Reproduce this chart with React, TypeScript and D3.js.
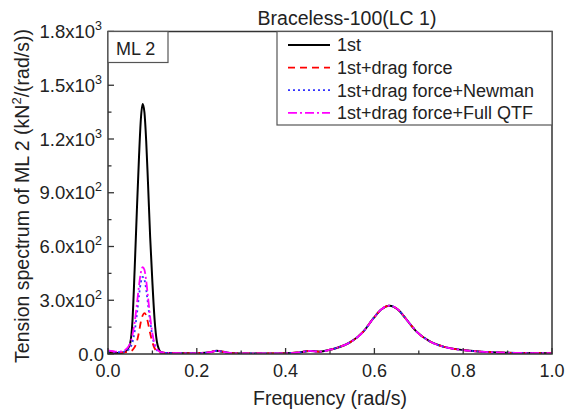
import React from 'react';
import * as d3 from 'd3';

const frequency = [0, 0.01, 0.02, 0.03, 0.035, 0.04, 0.045, 0.05, 0.055, 0.06, 0.065, 0.07, 0.074, 0.078, 0.082, 0.086, 0.09, 0.095, 0.1, 0.105, 0.11, 0.115, 0.12, 0.13,
  0.15, 0.18, 0.21, 0.23, 0.245, 0.26, 0.28, 0.32, 0.36, 0.4, 0.43, 0.455, 0.477, 0.5, 0.52, 0.545, 0.575, 0.598, 0.616, 0.634, 0.654, 0.673, 0.695, 0.725, 0.755, 0.8, 0.84, 0.9, 0.95, 1.0];

const spectrumTail = [5, 4, 5, 10, 18, 12, 4, 3, 3, 4, 9, 17, 13, 24, 38, 65, 125, 200, 250, 270, 246, 190, 125, 70, 41, 22, 13, 7, 5, 4];

const firstOrder = [6, 5, 5, 6, 8, 15, 30, 60, 180, 470, 800, 1110, 1310, 1395, 1350, 1190, 960, 650, 400, 190, 70, 25, 10, 6, ...spectrumTail];
const withDrag = [18, 14, 10, 9, 9, 10, 12, 15, 22, 38, 70, 125, 180, 215, 228, 215, 175, 115, 65, 32, 15, 9, 7, 6, ...spectrumTail];
const withNewman = [15, 12, 10, 10, 12, 16, 22, 35, 65, 125, 220, 330, 400, 430, 415, 360, 280, 180, 100, 48, 22, 11, 8, 6, ...spectrumTail];
const withFullQTF = [20, 16, 13, 14, 18, 25, 38, 60, 105, 175, 275, 385, 455, 485, 470, 410, 320, 205, 115, 55, 28, 15, 10, 7, ...spectrumTail];

const seriesNames = ['1st', '1st+drag force', '1st+drag force+Newman', '1st+drag force+Full QTF'];
const seriesValues = [firstOrder, withDrag, withNewman, withFullQTF];
const seriesColors = ['#000000', '#ff0000', '#3333ff', '#ff00ff'];
const seriesDash = ['none', '7,5', '2,3', '9,3,2,3'];
const seriesWidth = [2, 1.8, 1.8, 1.8];

const xTicks = [0, 0.2, 0.4, 0.6, 0.8, 1.0];
const xMinor = [0.1, 0.3, 0.5, 0.7, 0.9];
const yTicks = [0, 300, 600, 900, 1200, 1500, 1800];
const yTickMantissa = ['0.0', '3.0', '6.0', '9.0', '1.2', '1.5', '1.8'];
const yTickExp = ['', '2', '2', '2', '3', '3', '3'];
const yMinor = [150, 450, 750, 1050, 1350, 1650];

const W = 565, H = 419;
const L = 108, R = 552, T = 31.5, B = 354;
const FONT = '"Liberation Sans", Arial, Helvetica, sans-serif';

export default function App() {
  const x = d3.scaleLinear().domain([0, 1]).range([L, R]);
  const y = d3.scaleLinear().domain([0, 1800]).range([B, T]);
  const line = (vals: number[]) =>
    d3.line<number>().x((_, i) => x(frequency[i])).y((d) => y(d)).curve(d3.curveMonotoneX)(vals) || '';
  const axisColor = '#333';
  return (
    <svg width={W} height={H} style={{ position: 'absolute', left: 0, top: 0, background: '#fff' }} fontFamily={FONT}>
      <defs>
        <clipPath id="plot"><rect x={L} y={T} width={R - L} height={B - T} /></clipPath>
      </defs>
      <g clipPath="url(#plot)">
        {seriesValues.map((vals, i) => (
          <path key={i} d={line(vals)} fill="none" stroke={seriesColors[i]} strokeWidth={seriesWidth[i]}
            strokeDasharray={seriesDash[i]} strokeLinejoin="round" />
        ))}
      </g>
      <rect x={L} y={T} width={R - L} height={B - T} fill="none" stroke={axisColor} strokeWidth={1.5} />
      {xTicks.map((t) => (
        <g key={'xt' + t}>
          <line x1={x(t)} x2={x(t)} y1={B} y2={B - 6} stroke={axisColor} strokeWidth={1.3} />
          <text x={x(t)} y={377} fontSize={18} textAnchor="middle" fill="#222">{t.toFixed(1)}</text>
        </g>
      ))}
      {xMinor.map((t) => (
        <line key={'xm' + t} x1={x(t)} x2={x(t)} y1={B} y2={B - 3.5} stroke={axisColor} strokeWidth={1.3} />
      ))}
      {yTicks.map((t, i) => (
        <g key={'yt' + t}>
          <line x1={L} x2={L + 6} y1={y(t)} y2={y(t)} stroke={axisColor} strokeWidth={1.3} />
          {yTickExp[i] ? (
            <text x={102} y={y(t) + 6.5} fontSize={18.5} textAnchor="end" fill="#222">
              {yTickMantissa[i]}x10<tspan fontSize={12.5} dy={-8}>{yTickExp[i]}</tspan>
            </text>
          ) : (
            <text x={104} y={y(t) + 6.5} fontSize={18.5} textAnchor="end" fill="#222">{yTickMantissa[i]}</text>
          )}
        </g>
      ))}
      {yMinor.map((t) => (
        <line key={'ym' + t} x1={L} x2={L + 3.5} y1={y(t)} y2={y(t)} stroke={axisColor} strokeWidth={1.3} />
      ))}
      <text x={347} y={25} fontSize={19.5} textAnchor="middle" fill="#222">Braceless-100(LC 1)</text>
      <text x={330} y={405} fontSize={19.5} textAnchor="middle" fill="#222">Frequency (rad/s)</text>
      <text transform={`translate(28.5,196) rotate(-90)`} fontSize={19.5} textAnchor="middle" fill="#222">
        Tension spectrum of ML 2 (kN<tspan fontSize={13} dy={-8}>2</tspan><tspan dy={8}>/(rad/s))</tspan>
      </text>
      <rect x={L} y={T} width={60} height={31} fill="#fff" stroke="#555" strokeWidth={1.2} />
      <text x={116} y={55} fontSize={18} fill="#222">ML 2</text>
      <rect x={277} y={T} width={R - 277} height={125 - T} fill="#fff" stroke="#555" strokeWidth={1.2} />
      {seriesNames.map((name, i) => {
        const cy = 45 + i * 22.6;
        return (
          <g key={name}>
            <line x1={288} x2={330} y1={cy} y2={cy} stroke={seriesColors[i]} strokeWidth={seriesWidth[i]} strokeDasharray={seriesDash[i]} />
            <text x={337} y={cy + 6.3} fontSize={18} fill="#222">{name}</text>
          </g>
        );
      })}
    </svg>
  );
}
